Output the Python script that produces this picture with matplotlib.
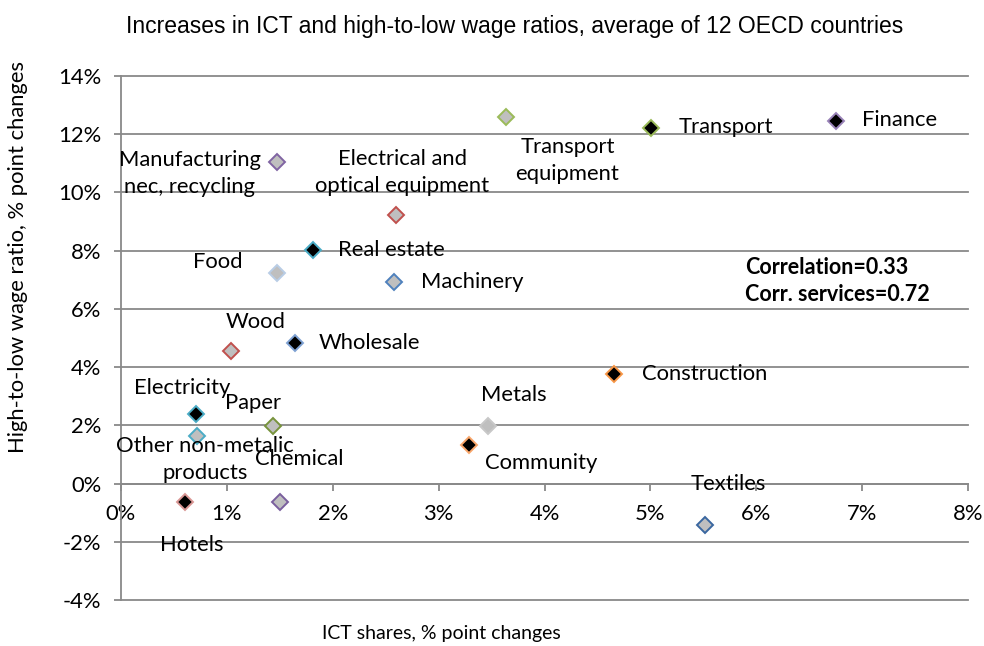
import matplotlib
matplotlib.use("Agg")
import matplotlib.pyplot as plt
from matplotlib.ticker import FuncFormatter, MultipleLocator

# Data: % point changes (ICT share, high-to-low wage ratio)
sectors = ["Finance", "Transport", "Transport\nequipment", "Manufacturing\nnec, recycling",
           "Electrical and\noptical equipment", "Real estate", "Food", "Machinery",
           "Wood", "Wholesale", "Electricity", "Other non-metalic\nproducts", "Paper",
           "Chemical", "Hotels", "Metals", "Community", "Construction", "Textiles"]
ict_change = [6.75, 5.01, 3.64, 1.47, 2.60, 1.81, 1.47, 2.58, 1.04, 1.64, 0.71, 0.72,
              1.44, 1.50, 0.60, 3.47, 3.29, 4.66, 5.52]
wage_change = [12.44, 12.23, 12.58, 11.03, 9.24, 8.04, 7.25, 6.91, 4.54, 4.84, 2.40, 1.62,
               1.96, -0.62, -0.62, 1.99, 1.31, 3.78, -1.44]
services = ["Finance", "Transport", "Real estate", "Wholesale", "Electricity",
            "Hotels", "Community", "Construction"]
notes = ["Correlation=0.33", "Corr. services=0.72"]

# Styles
edge_colors = {
    "Finance": "#9982B8", "Transport": "#9BBB59", "Transport\nequipment": "#9BBB59",
    "Manufacturing\nnec, recycling": "#8064A2", "Electrical and\noptical equipment": "#C0504D",
    "Real estate": "#4BACC6", "Food": "#B9CDE5", "Machinery": "#4F81BD", "Wood": "#C0504D",
    "Wholesale": "#7EA1D3", "Electricity": "#4BACC6", "Other non-metalic\nproducts": "#4BACC6",
    "Paper": "#77933C", "Chemical": "#7A5F9E", "Hotels": "#D99694", "Metals": "#C8C8C8",
    "Community": "#F9A66A", "Construction": "#F79646", "Textiles": "#3A67A0",
}
# label offsets in pixels (dx, dy) and horizontal alignment
label_pos = {
    "Finance": (26, 1, "left"), "Transport": (27, 1, "left"),
    "Transport\nequipment": (61, -43, "center"),
    "Manufacturing\nnec, recycling": (-87, -11, "center"),
    "Electrical and\noptical equipment": (6, 42, "center"),
    "Real estate": (25, 0, "left"), "Food": (-59, 10, "center"),
    "Machinery": (27, 0, "left"), "Wood": (24, 29, "center"),
    "Wholesale": (24, 0, "left"), "Electricity": (-14, 26, "center"),
    "Other non-metalic\nproducts": (8, -23, "center"), "Paper": (-20, 23, "center"),
    "Chemical": (19, 43, "center"), "Hotels": (7, -43, "center"),
    "Metals": (25, 31, "center"), "Community": (16, -18, "left"),
    "Construction": (28, 0, "left"), "Textiles": (23, 41, "center"),
}

grid_col = "#898989"
font = "Lato"
fs = 15.8

fig = plt.figure(figsize=(9.84, 6.46), dpi=100)
ax = fig.add_axes([121 / 984, 1 - 600 / 646, (968 - 121) / 984, (600 - 76) / 646])

for name, xv, yv in zip(sectors, ict_change, wage_change):
    face = "black" if name in services else "#BFBFBF"
    ax.plot(xv, yv, marker="D", ms=8.5, mfc=face, mec=edge_colors[name], mew=1.4,
            ls="none", zorder=3, clip_on=False)
    dx, dy, ha = label_pos[name]
    ax.annotate(name, (xv, yv), xytext=(dx, dy), textcoords="offset pixels",
                ha=ha, va="center", fontsize=fs, family=font, linespacing=1.45,
                zorder=4)

ax.set_xlim(0, 8)
ax.set_ylim(-4, 14)
ax.xaxis.set_major_locator(MultipleLocator(1))
ax.yaxis.set_major_locator(MultipleLocator(2))
pct = FuncFormatter(lambda v, p: f"{v:.0f}%".replace("\u2212", "-"))
ax.xaxis.set_major_formatter(pct)
ax.yaxis.set_major_formatter(pct)

ax.spines["top"].set_visible(False)
ax.spines["right"].set_visible(False)
ax.spines["bottom"].set_position(("data", 0))
for s in ("left", "bottom"):
    ax.spines[s].set_color(grid_col)
    ax.spines[s].set_linewidth(1.3)

ax.grid(axis="y", color=grid_col, linewidth=1.3)
for gl in ax.get_ygridlines():
    gl.set_clip_on(False)
ax.set_axisbelow(True)

ax.tick_params(axis="both", direction="out", length=5, width=1.3, color=grid_col,
               labelsize=fs)
ax.tick_params(axis="x", pad=10)
ax.tick_params(axis="y", pad=9)
for lab in ax.get_xticklabels() + ax.get_yticklabels():
    lab.set_family(font)

fig.text(0.523, 1 - 27 / 646, "Increases in ICT and high-to-low wage ratios, average of 12 OECD countries",
         ha="center", va="center", fontsize=16.5, family="Liberation Sans")
fig.text(441 / 984, 1 - 633 / 646, "ICT shares, % point changes", ha="center", va="center",
         fontsize=14, family=font)
fig.text(18 / 984, 1 - 257 / 646, "High-to-low wage ratio, % point changes", ha="center",
         va="center", rotation=90, fontsize=fs, family=font)
fig.text(745 / 984, 1 - 267 / 646, notes[0], ha="left", va="center", fontsize=15.5,
         family=font, fontweight="bold")
fig.text(745 / 984, 1 - 295 / 646, notes[1], ha="left", va="center", fontsize=15.5,
         family=font, fontweight="bold")

fig.savefig("out.png", dpi=100)
